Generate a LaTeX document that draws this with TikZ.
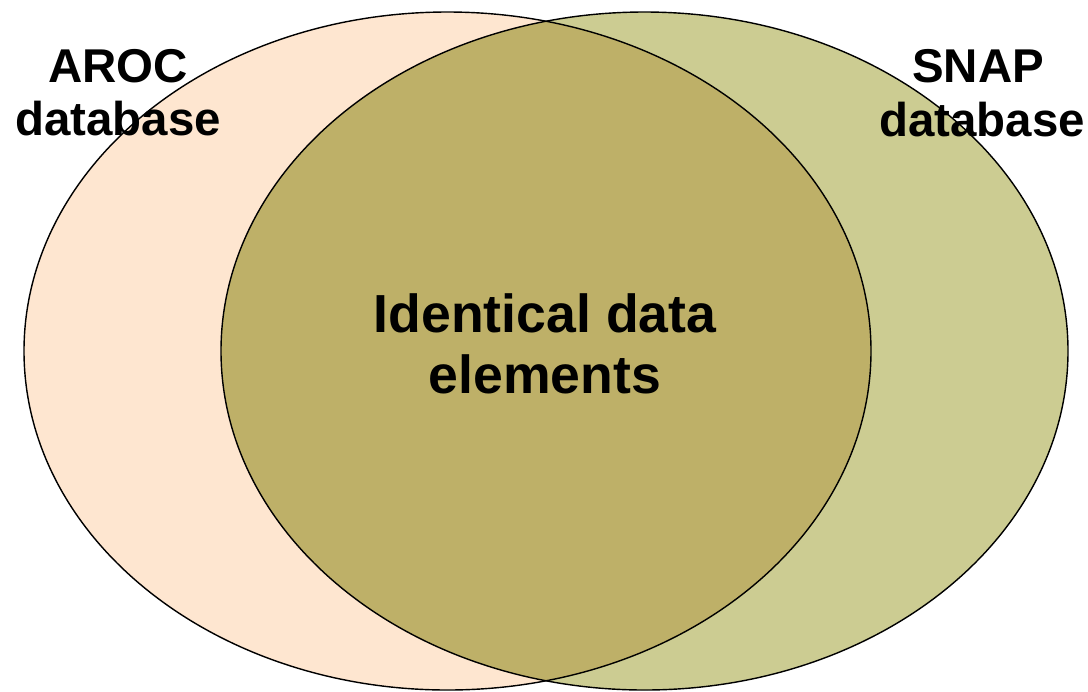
\documentclass[tikz,border=0pt]{standalone}
\usepackage{fontspec}
\setmainfont{Liberation Sans}
\usetikzlibrary{positioning}
\definecolor{arocpeach}{RGB}{254,230,208}
\definecolor{snapolive}{RGB}{204,204,146}
\definecolor{bothkhaki}{RGB}{190,176,104}

\begin{document}
\begin{tikzpicture}[x=0.02cm, y=-0.02cm,
		setline/.style={draw=black, line width=0.8pt},
		setlabel/.style={font=\bfseries\fontsize{27}{30}\selectfont, inner sep=0pt, anchor=base},
		midlabel/.style={font=\bfseries\fontsize{30.5}{35}\selectfont, inner sep=0pt, anchor=base}]
		\useasboundingbox (0,0) rectangle (1088,691);
		
		\coordinate (arocc) at (447.5,351);
		\coordinate (snapc) at (644.5,351);
		
		% the two sets
		\fill[arocpeach] (arocc) ellipse [x radius=423.5, y radius=339];
		\fill[snapolive] (snapc) ellipse [x radius=423.5, y radius=339];
		\begin{scope}
			\clip (arocc) ellipse [x radius=423.5, y radius=339];
			\fill[bothkhaki] (snapc) ellipse [x radius=423.5, y radius=339];
		\end{scope}
		\draw[setline] (arocc) ellipse [x radius=423.5, y radius=339];
		\draw[setline] (snapc) ellipse [x radius=423.5, y radius=339];
		
		% labels
		\node[setlabel] (aroc1) at (118,82) {AROC};
		\node[setlabel] (aroc2) at (118,135) {database};
		\node[setlabel] (snap1) at (978,82) {SNAP};
		\node[setlabel] (snap2) at (982,136) {database};
		
		\node[midlabel] (both1) at (545,332) {Identical data};
		\node[midlabel] (both2) at (545,393) {elements};
	\end{tikzpicture}
\end{document}
